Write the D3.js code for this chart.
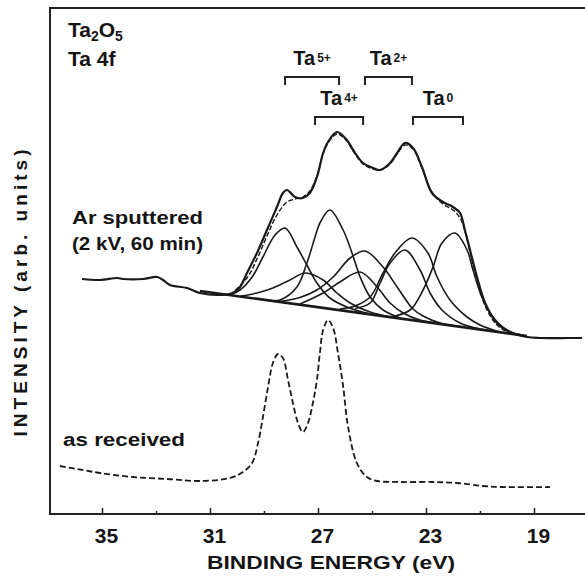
<!DOCTYPE html>
<html>
<head>
<meta charset="utf-8">
<script src="https://cdn.jsdelivr.net/npm/d3@7/dist/d3.min.js"></script>
<style>
  body { margin: 0; background: #fff; }
  text { font-family: "Liberation Sans", Arial, sans-serif; fill: #151515; font-weight: bold; }
</style>
</head>
<body>
<div class="canva"></div>
<script>
const width = 585
const height = 576

// axis ticks (binding energy, eV)
const majorTicks = [35, 31, 27, 23, 19]
const minorTicks = [33, 29, 25, 21]

// measured spectra [eV, intensity arb.]
const arSputtered = [[35.74,235],[35.07,234],[34.44,236],[34.22,235],[33.48,235],[32.96,237],[32.74,234],[32.48,229],[31.85,226],[31.37,221],[30.74,219],[30.15,221],[29.89,227],[29.63,241],[29.26,261],[28.89,284],[28.52,307],[28.30,321],[28.15,324],[27.85,317],[27.56,316],[27.30,321],[27.04,337],[26.81,361],[26.63,372],[26.30,382],[25.93,374],[25.70,364],[25.33,351],[24.96,346],[24.70,344],[24.33,351],[24.07,361],[23.78,371],[23.48,366],[23.15,347],[22.78,321],[22.37,312],[22.00,307],[21.74,301],[21.56,284],[21.37,264],[21.11,237],[20.81,211],[20.37,191],[19.89,182],[19.26,177],[18.78,176],[17.67,176],[17.22,176]]
const fitEnvelope = [[30.26,219],[29.63,236],[29.26,255],[28.89,278],[28.52,299],[28.15,312],[27.85,315],[27.56,317],[27.30,323],[27.04,338],[26.81,360],[26.63,371],[26.30,380],[25.93,373],[25.70,363],[25.33,350],[24.96,345],[24.70,344],[24.33,350],[24.07,360],[23.78,369],[23.48,365],[23.15,346],[22.78,322],[22.37,310],[22.00,304],[21.74,296],[21.56,283],[21.37,262],[21.11,235],[20.81,208],[20.37,189],[19.89,181],[19.26,178]]
const background = [[31.37,223],[19.26,178]]
const asReceived = [[36.56,48],[35.93,45],[35.07,41],[33.85,37],[32.59,35],[31.37,33],[30.26,36],[29.78,42],[29.44,51],[29.22,71],[29.04,97],[28.85,127],[28.67,151],[28.48,160],[28.30,156],[28.11,134],[27.93,111],[27.74,91],[27.56,82],[27.37,91],[27.19,111],[27.04,134],[26.93,161],[26.81,184],[26.63,194],[26.44,186],[26.26,161],[26.07,128],[25.89,88],[25.56,51],[25.19,37],[24.81,33],[23.96,32],[22.74,32],[21.85,31],[20.89,28],[20.26,27],[18.41,27]]

// fitted components
const ta5f52 = [[30.26,219],[29.89,224],[29.44,237],[29.04,257],[28.59,279],[28.22,286],[27.78,267],[27.41,249],[27.04,231],[26.56,216],[25.93,207],[25.07,200]]
const ta5f72 = [[28.78,213.5],[28.41,214],[27.78,227],[27.41,251],[27.11,277],[26.93,291],[26.56,304],[26.07,284],[25.74,261],[25.44,237],[25.07,217],[24.59,204],[23.96,196]]
const ta4f52 = [[29.89,217.6],[29.26,221],[28.67,226],[28.04,234],[27.48,241],[26.81,234],[26.30,221],[25.81,211],[25.07,202],[24.33,197]]
const ta4f72 = [[28.41,212.5],[27.67,216.5],[27.04,224],[26.44,237],[25.81,256],[25.26,263],[24.59,247],[24.07,227],[23.48,205],[23.11,198],[22.48,191],[21.74,187.5]]
const ta2f52 = [[27.67,210],[26.81,221],[26.19,232],[25.44,242],[24.81,227],[24.33,211],[23.85,201],[23.22,194],[22.48,190.5]]
const ta2f72 = [[26.19,205],[25.63,208],[25.07,217],[24.59,241],[24.15,261],[23.52,276],[22.93,261],[22.59,237],[22.11,214],[21.48,197],[21.00,189],[20.26,182]]
const ta0f52 = [[25.63,205.5],[25.07,211],[24.70,231],[24.33,251],[23.78,264],[23.22,244],[22.85,221],[22.41,204],[21.74,191],[21.00,185],[20.26,182]]
const ta0f72 = [[24.33,197],[23.59,204],[23.11,224],[22.74,247],[22.41,271],[21.93,281],[21.48,264],[21.26,244],[20.93,217],[20.52,197],[20.00,184],[19.52,179.5]]

// chemical state brackets
const stateCharge = ["5+", "4+", "2+", "0"]
const stateFrom = [28.22, 27.11, 25.26, 23.48]
const stateTo = [26.22, 25.33, 23.52, 21.63]
const stateRow = [0, 1, 0, 1]

const svg = d3.select(".canva").append("svg").attr("width", width).attr("height", height)
svg.append("rect").attr("width", width).attr("height", height).attr("fill", "#fff")

const x = d3.scaleLinear().domain([37, 17]).range([48, 588])
const y = d3.scaleLinear().domain([0, 506]).range([514, 8])

const line = d3.line().x(d => x(d[0])).y(d => y(d[1])).curve(d3.curveCatmullRom.alpha(0.5))

//frame
svg.append("path")
  .attr("d", `M585,8 H50 V514 H585`)
  .attr("fill", "none").attr("stroke", "#222").attr("stroke-width", 2)

//axis
const xAxis = svg.append("g").attr("transform", "translate(0,514)")
  .call(d3.axisBottom(x).tickValues(majorTicks).tickSize(-6).tickFormat(d3.format("d")))
xAxis.select(".domain").remove()
xAxis.selectAll(".tick line").attr("stroke", "#222").attr("stroke-width", 1.5)
xAxis.selectAll(".tick text").attr("y", 29).attr("dy", null).attr("dx", 4)
  .style("font-size", "21px").style("font-family", "Liberation Sans, Arial, sans-serif")
  .style("font-weight", "bold").attr("fill", "#151515")

const minor = svg.append("g").attr("transform", "translate(0,514)")
  .call(d3.axisBottom(x).tickValues(minorTicks).tickSize(-3).tickFormat(""))
minor.select(".domain").remove()
minor.selectAll(".tick line").attr("stroke", "#222").attr("stroke-width", 1.5)

svg.append("text").attr("x", 331).attr("y", 569).attr("text-anchor", "middle")
  .attr("textLength", 248).attr("lengthAdjust", "spacingAndGlyphs")
  .style("font-size", "19px").text("BINDING ENERGY (eV)")

svg.append("text").attr("transform", "translate(27,293) rotate(-90)").attr("text-anchor", "middle")
  .attr("textLength", 287).attr("lengthAdjust", "spacing")
  .style("font-size", "19px").text("INTENSITY (arb. units)")

//components
const comps = [ta5f52, ta5f72, ta4f52, ta4f72, ta2f52, ta2f72, ta0f52, ta0f72]
svg.append("g").selectAll("path").data(comps).enter().append("path")
  .attr("d", line).attr("fill", "none").attr("stroke", "#1a1a1a").attr("stroke-width", 1.6)

svg.append("path").datum(background).attr("d", d3.line().x(d => x(d[0])).y(d => y(d[1])))
  .attr("fill", "none").attr("stroke", "#1a1a1a").attr("stroke-width", 2.6)

svg.append("path").datum(fitEnvelope).attr("d", line)
  .attr("fill", "none").attr("stroke", "#1a1a1a").attr("stroke-width", 1.4).attr("stroke-dasharray", "5,2")

svg.append("path").datum(arSputtered).attr("d", line)
  .attr("fill", "none").attr("stroke", "#1a1a1a").attr("stroke-width", 2.2)

svg.append("path").datum(asReceived).attr("d", line)
  .attr("fill", "none").attr("stroke", "#1a1a1a").attr("stroke-width", 1.8).attr("stroke-dasharray", "6,3")

//brackets and labels
const rowY = [77, 117]
const br = svg.append("g")
stateCharge.forEach((c, i) => {
  const x1 = x(stateFrom[i]), x2 = x(stateTo[i]), yy = rowY[stateRow[i]]
  br.append("path").attr("d", `M${x1},${yy + 8} V${yy} H${x2} V${yy + 8}`)
    .attr("fill", "none").attr("stroke", "#222").attr("stroke-width", 2)
  const t = br.append("text").attr("x", (x1 + x2) / 2).attr("y", yy - 12)
    .attr("text-anchor", "middle").style("font-size", "20px")
  t.append("tspan").text("Ta")
  t.append("tspan").attr("dx", 2).attr("dy", -3).style("font-size", "12px").text(c)
})

//titles
const t1 = svg.append("text").attr("x", 68).attr("y", 37).style("font-size", "21px")
t1.append("tspan").text("Ta")
t1.append("tspan").attr("dy", 4).style("font-size", "14px").text("2")
t1.append("tspan").attr("dy", -4).text("O")
t1.append("tspan").attr("dy", 4).style("font-size", "14px").text("5")
svg.append("text").attr("x", 68).attr("y", 66).style("font-size", "21px").text("Ta 4f")

svg.append("text").attr("x", 72).attr("y", 224).attr("textLength", 131).attr("lengthAdjust", "spacingAndGlyphs")
  .style("font-size", "18px").text("Ar sputtered")
svg.append("text").attr("x", 72).attr("y", 250).attr("textLength", 131).attr("lengthAdjust", "spacingAndGlyphs")
  .style("font-size", "18px").text("(2 kV, 60 min)")
svg.append("text").attr("x", 63).attr("y", 446).attr("textLength", 122).attr("lengthAdjust", "spacingAndGlyphs")
  .style("font-size", "18px").text("as received")
</script>
</body>
</html>
